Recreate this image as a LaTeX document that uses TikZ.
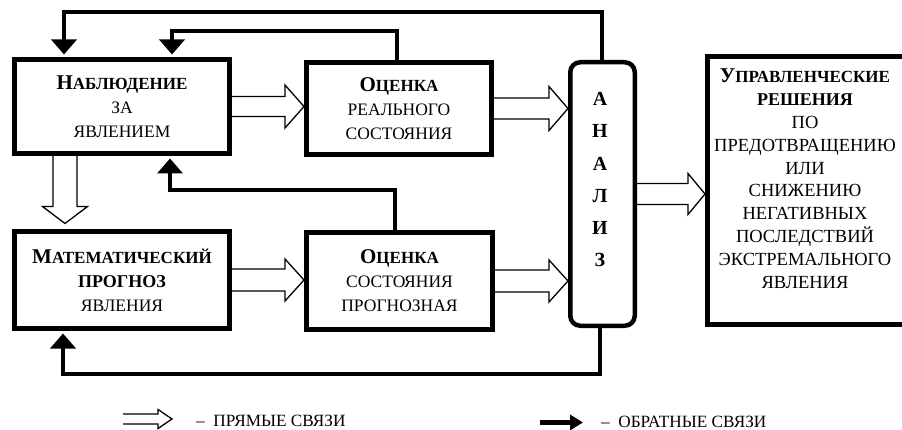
\documentclass[tikz,border=0pt]{standalone}
\usepackage{fontspec}
\setmainfont{Liberation Serif}
\usetikzlibrary{arrows.meta,calc}
\newcommand\SCb[2]{{\bfseries\fontsize{21}{24}\selectfont #1\fontsize{17}{24}\selectfont #2}}
\newcommand\SCs[1]{{\bfseries\fontsize{18}{24}\selectfont #1}}
% hollow arrow: #1 shaft half, #2 head half, #3 head length, #4 from, #5 to
\newcommand\harr[5]{\draw[hol] let \p1=(#4), \p2=(#5) in
  (\x1,\y1+#1) -- (\x2-#3,\y1+#1) -- (\x2-#3,\y1+#2) -- (\x2,\y1) -- (\x2-#3,\y1-#2) -- (\x2-#3,\y1-#1) -- (\x1,\y1-#1);}
\newcommand\harrv[5]{\draw[hol] let \p1=(#4), \p2=(#5) in
  (\x1-#1,\y1) -- (\x1-#1,\y2+#3) -- (\x1-#2,\y2+#3) -- (\x1,\y2) -- (\x1+#2,\y2+#3) -- (\x1+#1,\y2+#3) -- (\x1+#1,\y1);}
\begin{document}
\begin{tikzpicture}[x=1pt,y=-1pt,
  box/.style={draw, line width=5pt, inner sep=0pt, align=center,
    font=\fontsize{17.5}{24}\selectfont},
  txt/.style={inner sep=0pt, align=center, font=\fontsize{18.5}{22.8}\selectfont},
  fb/.style={draw, line width=4pt, shorten >=2.5pt, -{Triangle[width=25pt,length=15pt]}},
  hol/.style={draw, line width=1.3pt, line join=miter},
  lgd/.style={inner sep=0pt, anchor=base west, font=\fontsize{17.2}{20}\selectfont},
]
\useasboundingbox (0,0) rectangle (902,430);

\node[box, minimum width=215, minimum height=94] (b1) at (122,106.5)
  {\SCb{Н}{АБЛЮДЕНИЕ}\\ЗА\\ЯВЛЕНИЕМ};
\node[box, minimum width=185, minimum height=92] (b2) at (399,108.5)
  {\SCb{О}{ЦЕНКА}\\РЕАЛЬНОГО\\СОСТОЯНИЯ};
\node[box, minimum width=215, minimum height=97] (b3) at (122,280)
  {\SCb{М}{АТЕМАТИЧЕСКИЙ}\\\SCs{ПРОГНОЗ}\\ЯВЛЕНИЯ};
\node[box, minimum width=186, minimum height=97] (b4) at (399.5,281)
  {\SCb{О}{ЦЕНКА}\\СОСТОЯНИЯ\\ПРОГНОЗНАЯ};
\node[box, line width=4.5pt, rounded corners=10pt, minimum width=64.5, minimum height=263.5] (an) at (602.5,194) {};
\node[inner sep=0pt, align=center, anchor=north, font=\bfseries\fontsize{20}{32.3}\selectfont] (ant) at (600,92)
  {А\\Н\\А\\Л\\И\\З};
\node[box, minimum width=206, minimum height=268] (rb) at (810.5,190.5) {};
\node[txt, anchor=north] (rbt) at (805,69)
  {\SCb{У}{ПРАВЛЕНЧЕСКИЕ}\\\SCs{РЕШЕНИЯ}\\ПО\\ПРЕДОТВРАЩЕНИЮ\\ИЛИ\\СНИЖЕНИЮ\\НЕГАТИВНЫХ\\ПОСЛЕДСТВИЙ\\ЭКСТРЕМАЛЬНОГО\\ЯВЛЕНИЯ};

% direct links (hollow arrows)
\harr{10pt}{21.5pt}{19pt}{b1.east}{b1.east -| b2.west}
\harr{10.5pt}{22pt}{19pt}{b2.east}{b2.east -| an.west}
\harr{10.5pt}{20.5pt}{17pt}{an.east}{an.east -| rb.west}
\harr{11pt}{21pt}{19pt}{b3.east}{b3.east -| b4.west}
\harr{11pt}{21pt}{19pt}{b4.east}{b4.east -| an.west}
\harrv{12pt}{22.5pt}{17pt}{[xshift=-57pt]b1.south}{[xshift=-57pt,yshift=5.5pt]b3.north}

% feedback links
\draw[fb] ([xshift=-1pt]an.north) -- ++(0,-48) -| ([xshift=-58pt]b1.north);
\draw[fb] ([xshift=-2pt]b2.north) -- ++(0,-28.5) -| ([xshift=50pt]b1.north);
\draw[fb] ([xshift=-4.5pt]b4.north) -- ++(0,-39.5) -| ([xshift=48pt]b1.south);
\draw[fb] ([xshift=-2.5pt]an.south) -- ++(0,46) -| ([xshift=-59pt]b3.south);

% legend
\node[lgd] (lg1) at (196,426) {–\ \ ПРЯМЫЕ СВЯЗИ};
\coordinate (lg1s) at (123,419);
\harr{5pt}{9.5pt}{14pt}{lg1s}{[xshift=-24pt]lg1.west}
\node[lgd] (lg2) at (601,427) {–\ \ ОБРАТНЫЕ СВЯЗИ};
\coordinate (lg2s) at (540,422.5);
\draw[line width=5pt, -{Triangle[width=15pt,length=13pt]}] (lg2s) -- ([xshift=-18pt]lg2.west |- lg2s);
\end{tikzpicture}
\end{document}
